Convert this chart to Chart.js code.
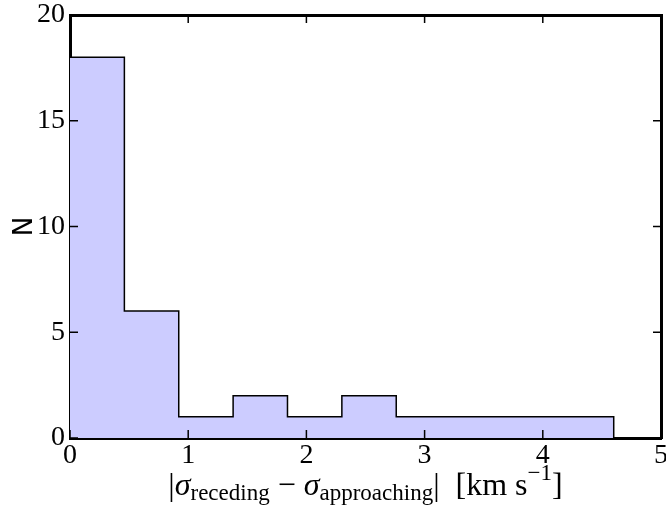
<!DOCTYPE html>
<html>
<head>
<meta charset="utf-8">
<script src="https://cdn.jsdelivr.net/npm/chart.js@4/dist/chart.umd.min.js"></script>
<style>
  html, body { margin: 0; padding: 0; background: #fff; }
  #wrap { width: 666px; height: 508px; }
</style>
</head>
<body>
<div id="wrap"><canvas id="graph"></canvas></div>
<script>
const lavender = 'rgb(204, 204, 255)'
const black = 'rgb(0, 0, 0)'
const serif = '"Liberation Serif", "DejaVu Serif", serif'

// histogram bins (left edges + final right edge) and counts
const binEdges = [0, 0.46, 0.92, 1.38, 1.84, 2.30, 2.76, 3.22, 3.68, 4.14, 4.60]
const counts = [18, 6, 1, 2, 1, 2, 1, 1, 1, 1]
const xTicks = [0, 1, 2, 3, 4, 5]
const yTicks = [0, 5, 10, 15, 20]

// step points: each count starts at its left edge, drop to 0 at the last edge
const stepPoints = counts.map((c, i) => ({x: binEdges[i], y: c}))
stepPoints.push({x: binEdges[binEdges.length - 1], y: 0})

// ticks point inward on all four sides
const inwardTicks = {
    id: 'inwardTicks',
    afterDraw(chart) {
        const {ctx, chartArea: a, scales: {x, y}} = chart
        ctx.save()
        ctx.strokeStyle = black
        ctx.lineWidth = 1.5
        ctx.beginPath()
        xTicks.forEach(v => {
            const px = x.getPixelForValue(v)
            ctx.moveTo(px, a.bottom); ctx.lineTo(px, a.bottom - 8)
            ctx.moveTo(px, a.top); ctx.lineTo(px, a.top + 8)
        })
        yTicks.forEach(v => {
            const py = y.getPixelForValue(v)
            ctx.moveTo(a.left, py); ctx.lineTo(a.left + 8, py)
            ctx.moveTo(a.right, py); ctx.lineTo(a.right - 8, py)
        })
        ctx.stroke()
        ctx.restore()
    }
}

// x label with subscripts / superscript, drawn as text pieces
const xLabel = {
    id: 'xLabel',
    afterDraw(chart) {
        const {ctx, chartArea: a} = chart
        const big = 32, small = 23
        const parts = [
            {t: '|', size: big, style: '', dy: 0},
            {t: 'σ', size: big, style: 'italic ', dy: 0},
            {t: 'receding', size: small, style: '', dy: 5},
            {t: ' − ', size: big, style: '', dy: 0},
            {t: 'σ', size: big, style: 'italic ', dy: 0},
            {t: 'approaching', size: small, style: '', dy: 5},
            {t: '|  [km s', size: big, style: '', dy: 0},
            {t: '−1', size: small, style: '', dy: -15},
            {t: ']', size: big, style: '', dy: 0},
        ]
        ctx.save()
        ctx.fillStyle = black
        ctx.textBaseline = 'alphabetic'
        ctx.textAlign = 'left'
        let total = 0
        parts.forEach(p => {
            ctx.font = p.style + p.size + 'px ' + serif
            p.w = ctx.measureText(p.t).width
            total += p.w
        })
        let cx = (a.left + a.right) / 2 - total / 2
        const base = 495
        parts.forEach(p => {
            ctx.font = p.style + p.size + 'px ' + serif
            ctx.fillText(p.t, cx, base + p.dy)
            cx += p.w
        })
        ctx.restore()
    }
}

const noPadX = s => { s.paddingLeft = 0; s.paddingRight = 0 }
const noPadY = s => { s.paddingTop = 0; s.paddingBottom = 0 }

const ctx = document.getElementById('graph')
new Chart(ctx, {
    type: 'line',
    data: {
        datasets: [{
            data: stepPoints,
            stepped: 'before',
            fill: 'origin',
            backgroundColor: lavender,
            borderColor: black,
            borderWidth: 1.5,
            pointRadius: 0,
        }]
    },
    options: {
        responsive: true,
        maintainAspectRatio: false,
        animation: false,
        layout: {padding: {top: 15, right: 5, left: 0, bottom: 0}},
        plugins: {legend: {display: false}, tooltip: {enabled: false}},
        scales: {
            x: {
                type: 'linear', position: 'bottom', min: 0, max: 5, z: 1,
                afterBuildTicks: s => { s.ticks = xTicks.map(v => ({value: v})) },
                afterFit: s => { s.height = 70; noPadX(s) },
                grid: {drawOnChartArea: false, drawTicks: false},
                border: {display: true, color: black, width: 3},
                ticks: {color: black, padding: 1, font: {family: serif, size: 28}}
            },
            x2: {
                type: 'linear', position: 'top', min: 0, max: 5, z: 1,
                afterFit: s => { s.height = 0; noPadX(s) },
                grid: {drawOnChartArea: false, drawTicks: false},
                border: {display: true, color: black, width: 3},
                ticks: {display: false}
            },
            y: {
                type: 'linear', position: 'left', min: 0, max: 20, z: 1,
                afterBuildTicks: s => { s.ticks = yTicks.map(v => ({value: v})) },
                afterFit: s => { s.width = 70; noPadY(s) },
                grid: {drawOnChartArea: false, drawTicks: false},
                border: {display: true, color: black, width: 3},
                ticks: {color: black, padding: 5, font: {family: serif, size: 28}},
                title: {display: true, text: 'N', color: black, padding: {top: 10, bottom: 0},
                        font: {family: '"DejaVu Sans", sans-serif', size: 26}}
            },
            y2: {
                type: 'linear', position: 'right', min: 0, max: 20, z: 1,
                afterFit: s => { s.width = 0; noPadY(s) },
                grid: {drawOnChartArea: false, drawTicks: false},
                border: {display: true, color: black, width: 3},
                ticks: {display: false}
            }
        }
    },
    plugins: [inwardTicks, xLabel]
})
</script>
</body>
</html>
